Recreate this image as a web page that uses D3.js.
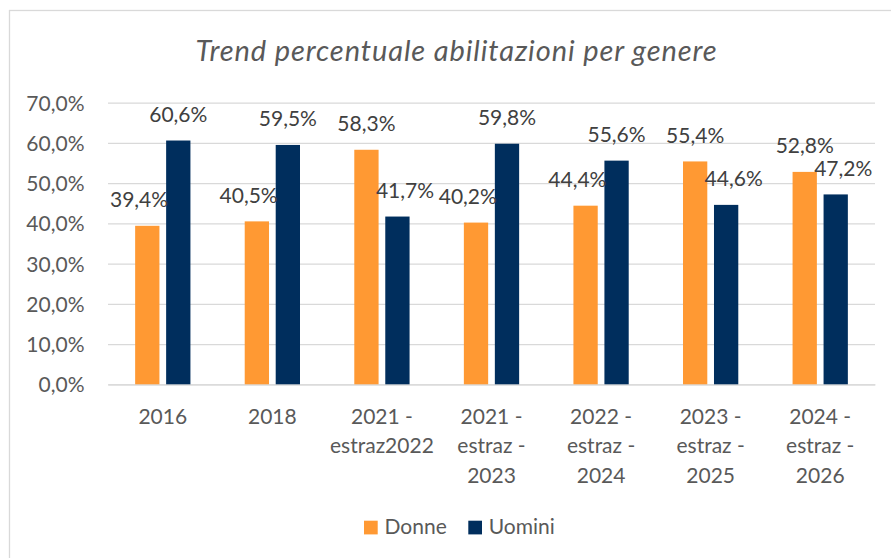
<!DOCTYPE html>
<html>
<head>
<meta charset="utf-8">
<script src="https://cdn.jsdelivr.net/npm/d3@7"></script>
<style>
  html, body { margin: 0; padding: 0; background: #ffffff; }
  svg { display: block; }
</style>
</head>
<body>
<svg id="chart" width="891" height="558"></svg>
<script>
// ---- Data ----
const title = "Trend percentuale abilitazioni per genere";
const categories = ["2016", "2018", "2021 - estraz2022", "2021 - estraz - 2023", "2022 - estraz - 2024", "2023 - estraz - 2025", "2024 - estraz - 2026"];
const seriesNames = ["Donne", "Uomini"];
const donne = [39.4, 40.5, 58.3, 40.2, 44.4, 55.4, 52.8];
const uomini = [60.6, 59.5, 41.7, 59.8, 55.6, 44.6, 47.2];
const yTicks = [0, 10, 20, 30, 40, 50, 60, 70];

// ---- Setup ----
const colors = { Donne: "#FF9933", Uomini: "#002E5D" };
const FONT = "Lato, 'Open Sans', sans-serif";
const FS = 21;
const svg = d3.select("#chart");
const loc = d3.formatLocale({ decimal: ",", thousands: ".", grouping: [3], currency: ["€", ""] });
const fmt = loc.format(".1f");

const plot = { left: 108, right: 875, top: 102.7, bottom: 384.3 };

const x = d3.scaleBand().domain(categories).range([plot.left, plot.right]).paddingInner(0).paddingOuter(0);
const x1 = d3.scaleBand().domain(seriesNames).range([0, x.bandwidth()]).paddingInner(0.216).paddingOuter(0.876);
const y = d3.scaleLinear().domain([0, 70]).range([plot.bottom, plot.top]);

// chart border
svg.append("rect").attr("x", 9.5).attr("y", 10.5).attr("width", 950).attr("height", 650)
  .attr("fill", "none").attr("stroke", "#D9D9D9").attr("stroke-width", 1.3);

// title
svg.append("text").attr("x", 456.5).attr("y", 61).attr("text-anchor", "middle")
  .attr("font-family", FONT).attr("font-style", "italic").attr("font-size", 29)
  .attr("letter-spacing", 0.9)
  .attr("fill", "#595959").text(title);

// gridlines + y axis
const yAxis = d3.axisLeft(y).tickValues(yTicks).tickSize(-(plot.right - plot.left)).tickPadding(24)
  .tickFormat(d => fmt(d) + "%");
const gy = svg.append("g").attr("transform", `translate(${plot.left},0)`).call(yAxis);
gy.select(".domain").remove();
gy.selectAll(".tick line").attr("stroke", "#D9D9D9").attr("stroke-width", 1.3);
gy.selectAll(".tick text").attr("font-family", FONT).attr("font-size", FS).attr("fill", "#595959")
  .attr("dy", "0.36em").attr("x", -23.5);

// x axis
const xAxis = d3.axisBottom(x).tickSize(0).tickPadding(0);
const gx = svg.append("g").attr("transform", `translate(0,${plot.bottom})`).call(xAxis);
gx.select(".domain").attr("stroke", "#D9D9D9").attr("stroke-width", 1.3);
gx.selectAll(".tick text").attr("font-family", FONT).attr("font-size", FS).attr("fill", "#595959")
  .attr("y", 0).attr("dy", 0)
  .each(function (d) {
    const t = d3.select(this);
    t.text(null);
    const words = d.split(" ");
    const lines = [];
    let cur = [];
    const probe = t.append("tspan");
    words.forEach(w => {
      const test = cur.concat([w]).join(" ");
      probe.text(test);
      if (probe.node().getComputedTextLength() > 104 && cur.length) {
        lines.push(cur.join(" "));
        cur = [w];
      } else cur.push(w);
    });
    lines.push(cur.join(" "));
    probe.remove();
    lines.forEach((ln, i) => {
      t.append("tspan").attr("x", 0).attr("y", 39.5 + i * 29.6).text(ln);
    });
  });

// bars
const rows = categories.map((c, i) => ({ cat: c, Donne: donne[i], Uomini: uomini[i] }));
const groups = svg.append("g").selectAll("g").data(rows).join("g")
  .attr("transform", d => `translate(${x(d.cat)},0)`);
groups.selectAll("rect").data(d => seriesNames.map(k => ({ key: k, value: d[k] })))
  .join("rect")
  .attr("x", d => x1(d.key)).attr("width", x1.bandwidth())
  .attr("y", d => y(d.value)).attr("height", d => y(0) - y(d.value))
  .attr("fill", d => colors[d.key]);

// data labels (shifted off a taller neighbouring bar)
const labG = svg.append("g");
rows.forEach(r => {
  const gx0 = x(r.cat);
  seriesNames.forEach((k, si) => {
    const other = seriesNames[1 - si];
    const v = r[k];
    const bx = gx0 + x1(k);
    const cx0 = bx + x1.bandwidth() / 2;
    const base = y(v) - 18.5;
    const t = labG.append("text").attr("font-family", FONT).attr("font-size", FS)
      .attr("fill", "#404040").attr("text-anchor", "middle").attr("y", base)
      .text(fmt(v) + "%");
    const w = t.node().getComputedTextLength();
    let cx = cx0;
    if (r[other] > v && y(r[other]) < base) {
      if (si === 0) {
        const nl = gx0 + x1(other);
        if (cx + w / 2 > nl + 2) cx = nl + 2 - w / 2;
      } else {
        const nr = gx0 + x1(other) + x1.bandwidth();
        if (cx - w / 2 < nr - 2.7) cx = nr - 2.7 + w / 2;
      }
    }
    t.attr("x", cx);
  });
});

// legend
const leg = svg.append("g");
const legX = [364, 468.3];
seriesNames.forEach((k, i) => {
  leg.append("rect").attr("x", legX[i]).attr("y", 520.7).attr("width", 13.7).attr("height", 13.7)
    .attr("fill", colors[k]);
  leg.append("text").attr("x", legX[i] + 20.5).attr("y", 533.5)
    .attr("font-family", FONT).attr("font-size", FS).attr("fill", "#595959").text(k);
});
</script>
</body>
</html>
